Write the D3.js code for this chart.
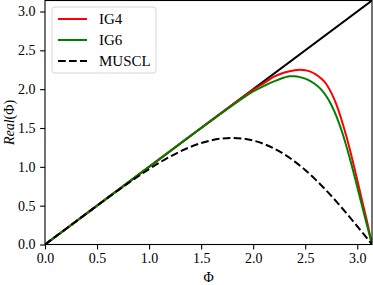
<!DOCTYPE html>
<html>
<head>
<meta charset="utf-8">
<script src="https://cdn.jsdelivr.net/npm/d3@7"></script>
<style>
body { margin: 0; background: #fff; }
text { font-family: "Liberation Serif", "DejaVu Serif", serif; }
</style>
</head>
<body>
<script>
var WIDTH = 373, HEIGHT = 285
var margin = {top: 0.5, right: 1, bottom: 40.5, left: 45}

// values
var phiMax = 3.14159
var xTicks = [0, 0.5, 1.0, 1.5, 2.0, 2.5, 3.0]
var yTicks = [0, 0.5, 1.0, 1.5, 2.0, 2.5, 3.0]

var exactPhi = [0, 3.14159]
var exactVal = [0, 3.14159]

var ig4Phi = [0, 0.5, 1.0, 1.5, 1.8, 1.9, 2.0, 2.1, 2.2, 2.3, 2.4, 2.45, 2.5, 2.55, 2.6, 2.65, 2.7, 2.75, 2.8, 2.85, 2.9, 2.95, 3.0, 3.05, 3.1, 3.14159]
var ig4Val = [0, 0.5, 1.0, 1.5, 1.80, 1.895, 1.99, 2.075, 2.16, 2.215, 2.245, 2.25, 2.243, 2.225, 2.19, 2.14, 2.07, 1.955, 1.80, 1.60, 1.37, 1.11, 0.83, 0.545, 0.26, 0]

var ig6Phi = [0, 0.5, 1.0, 1.5, 1.8, 1.9, 2.0, 2.1, 2.2, 2.3, 2.35, 2.4, 2.45, 2.5, 2.55, 2.6, 2.65, 2.7, 2.75, 2.8, 2.85, 2.9, 2.95, 3.0, 3.05, 3.1, 3.14159]
var ig6Val = [0, 0.5, 1.0, 1.5, 1.79, 1.885, 1.97, 2.04, 2.10, 2.15, 2.165, 2.165, 2.155, 2.135, 2.105, 2.06, 2.0, 1.915, 1.80, 1.65, 1.465, 1.245, 1.0, 0.74, 0.475, 0.215, 0]

var musclPhi = [0, 0.2, 0.4, 0.6, 0.8, 0.9, 1.0, 1.1, 1.2, 1.3, 1.4, 1.5, 1.6, 1.7, 1.8, 1.9, 2.0, 2.1, 2.2, 2.3, 2.4, 2.5, 2.6, 2.7, 2.8, 2.9, 3.0, 3.1, 3.14159]
var musclVal = [0, 0.2, 0.4, 0.598, 0.79, 0.882, 0.970, 1.054, 1.130, 1.199, 1.258, 1.306, 1.342, 1.365, 1.372, 1.364, 1.339, 1.296, 1.237, 1.160, 1.067, 0.958, 0.835, 0.699, 0.552, 0.396, 0.235, 0.069, 0]

var series = [
	{name: 'exact', phi: exactPhi, val: exactVal, color: '#000', dash: null},
	{name: 'IG4', phi: ig4Phi, val: ig4Val, color: '#ff0000', dash: null},
	{name: 'IG6', phi: ig6Phi, val: ig6Val, color: '#008000', dash: null},
	{name: 'MUSCL', phi: musclPhi, val: musclVal, color: '#000', dash: '7.7,3.3'}
]

var w = WIDTH - margin.left - margin.right,
	h = HEIGHT - margin.top - margin.bottom

var x = d3.scaleLinear().domain([0, phiMax]).range([0, w])
var y = d3.scaleLinear().domain([0, phiMax]).range([h, 0])

var svg = d3.select('body')
	.append('svg')
		.attr('width', WIDTH)
		.attr('height', HEIGHT)
	.append('g')
		.attr('transform', 'translate(' + margin.left + ',' + margin.top + ')')

var line = d3.line()
	.x(function(d){ return x(d[0]) })
	.y(function(d){ return y(d[1]) })
	.curve(d3.curveMonotoneX)

svg.append('defs').append('clipPath').attr('id', 'clip')
	.append('rect').attr('width', w).attr('height', h)

svg.append('g').attr('clip-path', 'url(#clip)')
	.selectAll('.curve').data(series)
	.enter().append('path')
		.classed('curve', true)
		.attr('d', function(s){ return line(d3.zip(s.phi, s.val)) })
		.attr('fill', 'none')
		.attr('stroke', function(s){ return s.color })
		.attr('stroke-width', 2)
		.attr('stroke-dasharray', function(s){ return s.dash })

// frame
svg.append('rect')
	.attr('width', w).attr('height', h)
	.attr('fill', 'none').attr('stroke', '#000').attr('stroke-width', 1.1)

var xAxis = svg.append('g')
	.attr('transform', 'translate(0,' + h + ')')
	.call(d3.axisBottom(x).tickValues(xTicks).tickFormat(d3.format('.1f')).tickSize(4.9).tickPadding(3.5))
var yAxis = svg.append('g')
	.call(d3.axisLeft(y).tickValues(yTicks).tickFormat(d3.format('.1f')).tickSize(4.9).tickPadding(4.5))

;[xAxis, yAxis].forEach(function(a){
	a.select('.domain').remove()
	a.selectAll('text').style('font-family', '"Liberation Serif", serif').style('font-size', '14px').attr('fill', '#000')
	a.selectAll('line').attr('stroke', '#000').attr('stroke-width', 1.1)
})

svg.append('text')
	.attr('x', w / 2).attr('y', h + 37)
	.attr('text-anchor', 'middle')
	.style('font-size', '14px')
	.text('Φ')

var yl = svg.append('text')
	.attr('transform', 'translate(' + (-31) + ',' + (h / 2) + ') rotate(-90)')
	.attr('text-anchor', 'middle')
	.style('font-size', '14px')
yl.append('tspan').style('font-style', 'italic').text('Real')
yl.append('tspan').text('(Φ)')

// legend
var legendItems = series.slice(1)
var legend = svg.append('g').attr('transform', 'translate(7,6.5)')
legend.append('rect')
	.attr('width', 104).attr('height', 66)
	.attr('rx', 3).attr('ry', 3)
	.attr('fill', '#fff').attr('fill-opacity', 0.8)
	.attr('stroke', '#d6d6d6').attr('stroke-width', 1)

var rows = legend.selectAll('.row').data(legendItems)
	.enter().append('g')
		.classed('row', true)
		.attr('transform', function(d, i){ return 'translate(0,' + (12 + i * 21) + ')' })
rows.append('line')
	.attr('x1', 6).attr('x2', 35)
	.attr('stroke', function(d){ return d.color })
	.attr('stroke-width', 2)
	.attr('stroke-dasharray', function(d){ return d.dash })
rows.append('text')
	.attr('x', 47).attr('dy', '0.35em')
	.style('font-size', '15px')
	.text(function(d){ return d.name })
</script>
</body>
</html>
